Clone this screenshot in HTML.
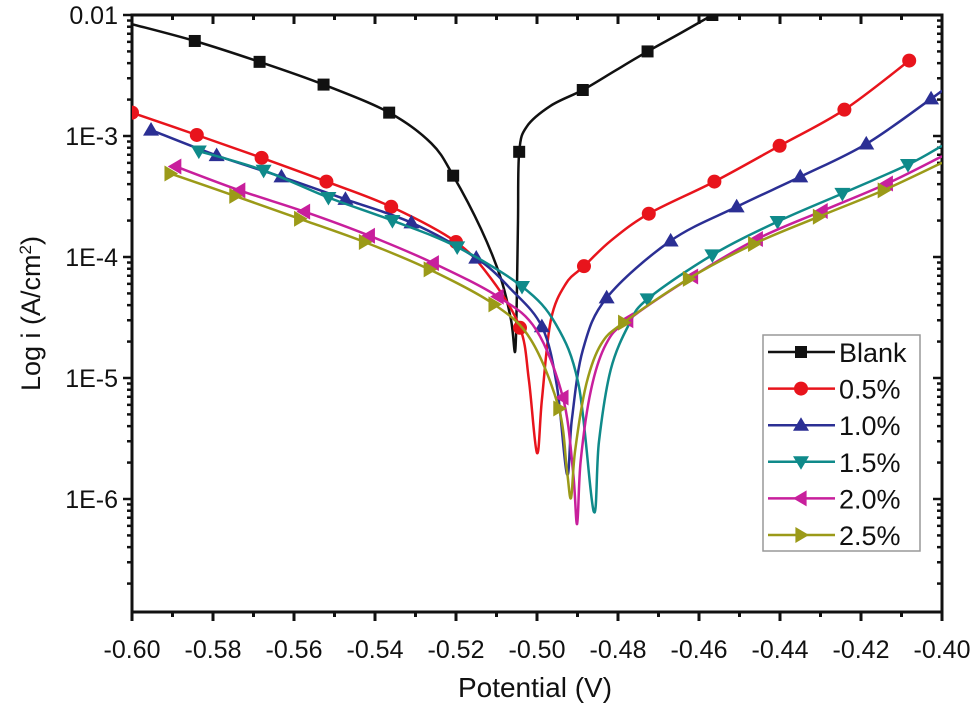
<!DOCTYPE html>
<html><head><meta charset="utf-8"><style>
html,body{margin:0;padding:0;background:#fff;}
svg{display:block;font-family:"Liberation Sans",Arial,sans-serif;}
</style></head><body>
<svg id="chart" width="970" height="704"></svg>
<script>
const seriesNames=["Blank","0.5%","1.0%","1.5%","2.0%","2.5%"];
const blankV=[-0.600,-0.5845,-0.5685,-0.5527,-0.5365,-0.5261,-0.5207,-0.5138,-0.5089,-0.5064,-0.5054,-0.5050,-0.5047,-0.5044,-0.5025,-0.4966,-0.4887,-0.4805,-0.4727,-0.4645,-0.4567];
const blankI=[8.4e-3,6.1e-3,4.1e-3,2.66e-3,1.56e-3,8.7e-4,4.7e-4,1.7e-4,6.6e-5,3.0e-5,1.65e-5,4.5e-5,2.0e-4,7.4e-4,1.2e-3,1.78e-3,2.4e-3,3.5e-3,5.0e-3,7.1e-3,1.0e-2];
const blankMk=[0,1,1,1,1,0,1,0,0,0,0,0,0,1,0,0,1,0,1,0,1];
const s05V=[-0.6,-0.584,-0.568,-0.552,-0.536,-0.520,-0.5113,-0.5042,-0.502,-0.5,-0.4988,-0.4966,-0.4929,-0.4884,-0.4818,-0.4724,-0.4562,-0.4401,-0.4241,-0.4081];
const s05I=[1.56e-3,1.02e-3,6.6e-4,4.2e-4,2.6e-4,1.33e-4,6.6e-5,2.6e-5,9.6e-6,2.4e-6,6.6e-6,3.0e-5,6.0e-5,8.4e-5,1.36e-4,2.28e-4,4.2e-4,8.3e-4,1.65e-3,4.2e-3];
const s05Mk=[1,1,1,1,1,1,0,1,0,0,0,0,0,1,0,1,1,1,1,1];
const s10V=[-0.5953,-0.5791,-0.5631,-0.5473,-0.5310,-0.5150,-0.5064,-0.4988,-0.4951,-0.4926,-0.4914,-0.4887,-0.4828,-0.4670,-0.4507,-0.4350,-0.4187,-0.4027,-0.4];
const s10I=[1.12e-3,6.9e-4,4.6e-4,3.0e-4,1.92e-4,9.8e-5,5.4e-5,2.66e-5,8.7e-6,1.6e-6,4.5e-6,1.7e-5,4.6e-5,1.36e-4,2.6e-4,4.6e-4,8.6e-4,2.03e-3,2.37e-3];
const s10Mk=[1,1,1,1,1,1,0,1,0,0,0,0,1,1,1,1,1,1,0];
const s15V=[-0.5835,-0.5675,-0.5515,-0.5357,-0.5197,-0.5037,-0.4953,-0.4897,-0.4860,-0.4847,-0.4818,-0.4773,-0.4727,-0.4567,-0.4406,-0.4246,-0.4084,-0.4];
const s15I=[7.5e-4,5.2e-4,3.1e-4,2.0e-4,1.21e-4,5.7e-5,2.77e-5,8.7e-6,7.9e-7,3.0e-6,1.17e-5,2.77e-5,4.5e-5,1.04e-4,1.96e-4,3.35e-4,5.8e-4,8.3e-4];
const s15Mk=[1,1,1,1,1,1,0,0,0,0,0,0,1,1,1,1,1,0];
const s20V=[-0.5892,-0.5734,-0.5574,-0.5414,-0.5256,-0.5096,-0.5002,-0.4936,-0.4911,-0.4901,-0.4892,-0.4867,-0.4830,-0.4776,-0.4616,-0.4456,-0.4296,-0.4135,-0.4];
const s20I=[5.6e-4,3.55e-4,2.37e-4,1.5e-4,8.9e-5,4.7e-5,2.5e-5,6.9e-6,1.7e-6,6.2e-7,2.07e-6,7.9e-6,1.9e-5,3.0e-5,6.9e-5,1.41e-4,2.4e-4,4.05e-4,6.8e-4];
const s20Mk=[1,1,1,1,1,1,0,1,0,0,0,0,0,1,1,1,1,1,0];
const s25V=[-0.5906,-0.5746,-0.5586,-0.5426,-0.5266,-0.5106,-0.5015,-0.4946,-0.4926,-0.4916,-0.4906,-0.4879,-0.4842,-0.4786,-0.4626,-0.4465,-0.4305,-0.4145,-0.4];
const s25I=[4.9e-4,3.2e-4,2.07e-4,1.33e-4,7.9e-5,4.06e-5,2.07e-5,5.6e-6,1.7e-6,1.02e-6,2.5e-6,8.7e-6,1.9e-5,2.87e-5,6.6e-5,1.28e-4,2.15e-4,3.55e-4,6.0e-4];
const s25Mk=[1,1,1,1,1,1,0,1,0,0,0,0,0,1,1,1,1,1,0];
const xTicks=[-0.60,-0.58,-0.56,-0.54,-0.52,-0.50,-0.48,-0.46,-0.44,-0.42,-0.40];
const xTickLabels=["-0.60","-0.58","-0.56","-0.54","-0.52","-0.50","-0.48","-0.46","-0.44","-0.42","-0.40"];
const yTicks=[1e-2,1e-3,1e-4,1e-5,1e-6];
const yTickLabels=["0.01","1E-3","1E-4","1E-5","1E-6"];

const NS="http://www.w3.org/2000/svg";
const svg=document.getElementById('chart');
const L=132,R=942,T=15,B=612;
const xMin=-0.60,xMax=-0.40,logTop=-2,pxDec=121;
function xs(v){return L+(v-xMin)/(xMax-xMin)*(R-L);}
function ys(i){return T+(logTop-Math.log10(i))*pxDec;}
function mk(tag,attrs,parent){const e=document.createElementNS(NS,tag);for(const k in attrs)e.setAttribute(k,attrs[k]);(parent||svg).appendChild(e);return e;}

const defs=mk('defs',{});
const cp=mk('clipPath',{id:'clip'},defs);
mk('rect',{x:L,y:T,width:R-L,height:B-T},cp);

const axisG=mk('g',{});


for(let k=0;k<=20;k++){
  const v=xMin+k*0.01, x=xs(v), major=k%2===0;
  mk('line',{x1:x,x2:x,y1:B,y2:B+(major?9:5),stroke:'#111','stroke-width':3},axisG);
  mk('line',{x1:x,x2:x,y1:T,y2:T+(major?9:5),stroke:'#111','stroke-width':3},axisG);
}
xTicks.forEach((v,i)=>{
  const t=mk('text',{x:xs(v),y:B+46,'font-size':25,'text-anchor':'middle',fill:'#111'},axisG);
  t.textContent=xTickLabels[i];
  
  
});
for(let d=-2;d>=-7;d--){
  for(let m=1;m<10;m++){
    const y=ys(m*Math.pow(10,d));
    if(y<T-0.5||y>B+0.5)continue;
    const major=m===1;
    mk('line',{x1:L-(major?9:5),x2:L,y1:y,y2:y,stroke:'#111','stroke-width':2.5},axisG);
    mk('line',{x1:R-(major?9:5),x2:R,y1:y,y2:y,stroke:'#111','stroke-width':2.5},axisG);
  }
}
yTicks.forEach((v,i)=>{
  const t=mk('text',{x:L-14,y:ys(v)+9,'font-size':25,'text-anchor':'end',fill:'#111'},axisG);
  t.textContent=yTickLabels[i];
  
  
});
mk('rect',{x:L,y:T,width:R-L,height:B-T,fill:'none',stroke:'#111','stroke-width':3},axisG);

const xt=mk('text',{x:535,y:697,'font-size':28,'text-anchor':'middle',fill:'#111'});
xt.textContent='Potential (V)';


const yt=mk('text',{x:0,y:0,'font-size':27,'text-anchor':'middle',fill:'#111',transform:'translate(40,'+((T+B)/2)+') rotate(-90)'});
yt.innerHTML='Log i (A/cm<tspan dy="-9" font-size="17">2</tspan><tspan dy="9">)</tspan>';



function pathFor(pts){
  let d='M'+pts[0][0]+','+pts[0][1];
  for(let i=0;i<pts.length-1;i++){
    const p0=pts[Math.max(0,i-1)],p1=pts[i],p2=pts[i+1],p3=pts[Math.min(pts.length-1,i+2)];
    const c1=[p1[0]+(p2[0]-p0[0])/6,p1[1]+(p2[1]-p0[1])/6];
    const c2=[p2[0]-(p3[0]-p1[0])/6,p2[1]-(p3[1]-p1[1])/6];
    d+=' C'+c1[0].toFixed(1)+','+c1[1].toFixed(1)+' '+c2[0].toFixed(1)+','+c2[1].toFixed(1)+' '+p2[0].toFixed(1)+','+p2[1].toFixed(1);
  }
  return d;
}
function marker(type,x,y,color,parent){
  const s=8;
  if(type==='square') return mk('rect',{x:x-6,y:y-6,width:12,height:12,fill:color},parent);
  if(type==='circle') return mk('circle',{cx:x,cy:y,r:7,fill:color},parent);
  let p;
  if(type==='up')p=[[x,y-s],[x+s,y+s*0.7],[x-s,y+s*0.7]];
  if(type==='down')p=[[x,y+s],[x+s,y-s*0.7],[x-s,y-s*0.7]];
  if(type==='left')p=[[x-s,y],[x+s*0.7,y-s],[x+s*0.7,y+s]];
  if(type==='right')p=[[x+s,y],[x-s*0.7,y-s],[x-s*0.7,y+s]];
  return mk('polygon',{points:p.map(a=>a.join(',')).join(' '),fill:color},parent);
}
const series=[
 {V:blankV,I:blankI,M:blankMk,c:'#111111',m:'square',n:'blank'},
 {V:s05V,I:s05I,M:s05Mk,c:'#e8141c',m:'circle',n:'0-5-percent'},
 {V:s10V,I:s10I,M:s10Mk,c:'#2b2f94',m:'up',n:'1-0-percent'},
 {V:s15V,I:s15I,M:s15Mk,c:'#0f8a8a',m:'down',n:'1-5-percent'},
 {V:s20V,I:s20I,M:s20Mk,c:'#c81f9c',m:'left',n:'2-0-percent'},
 {V:s25V,I:s25I,M:s25Mk,c:'#9b9a18',m:'right',n:'2-5-percent'}
];
const plotG=mk('g',{'clip-path':'url(#clip)'});


series.forEach(s=>{
  const g=mk('g',{},plotG);
  
  
  const pts=s.V.map((v,i)=>[xs(v),ys(s.I[i])]);
  mk('path',{d:pathFor(pts),fill:'none',stroke:s.c,'stroke-width':2.5,'stroke-linejoin':'round'},g);
  pts.forEach((p,i)=>{ if(s.M[i]){ const e=marker(s.m,p[0],p[1],s.c,g);
    
    }});
});

const lg=mk('g',{});


mk('rect',{x:763,y:335,width:157,height:216,fill:'#fff',stroke:'#999','stroke-width':1.5},lg);
series.forEach((s,i)=>{
  const y=352+i*36.6;
  const e=mk('g',{},lg);
  
  
  mk('line',{x1:768,x2:835,y1:y,y2:y,stroke:s.c,'stroke-width':2.5},e);
  marker(s.m,801,y,s.c,e);
  const t=mk('text',{x:839,y:y+10,'font-size':27,fill:'#111'},e);
  t.textContent=seriesNames[i];
});
</script>
</body></html>
